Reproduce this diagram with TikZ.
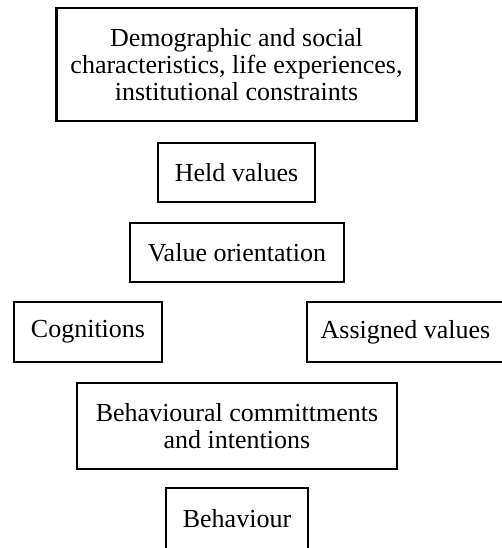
\documentclass[tikz,border=0pt]{standalone}
\usepackage{fontspec}
\setmainfont{Liberation Serif}
\usepackage{tikz}
\usetikzlibrary{positioning}

\begin{document}
\begin{tikzpicture}[x=0.5pt,y=-0.5pt,
    box/.style={draw, line width=1.3pt, align=center, inner sep=0pt,
        font=\fontsize{13}{13.6}\selectfont}]
\useasboundingbox (0,0) rectangle (502,548);
% background factors
\node[box, minimum width=180pt, minimum height=56.5pt] (demo) at (236.5,64.5)
    {Demographic and social\\characteristics, life experiences,\\institutional constraints};
% value chain
\node[box, minimum width=78.5pt, minimum height=29.5pt] (held) at (236.5,172.5) {Held values};
\node[box, minimum width=107pt, minimum height=29.5pt] (orient) at (237,252.5) {Value orientation};
% side boxes
\node[box, minimum width=74pt, minimum height=30pt] (cogn) at (88,332) {Cognitions};
\node[box, minimum width=98.5pt, minimum height=30pt] (assigned) at (405.5,332) {Assigned values};
% outcomes
\node[box, minimum width=160pt, minimum height=43pt] (intent) at (237,426)
    {Behavioural committments\\and intentions};
\node[box, minimum width=71pt, minimum height=31pt] (behav) at (237,519) {Behaviour};
\end{tikzpicture}
\end{document}
